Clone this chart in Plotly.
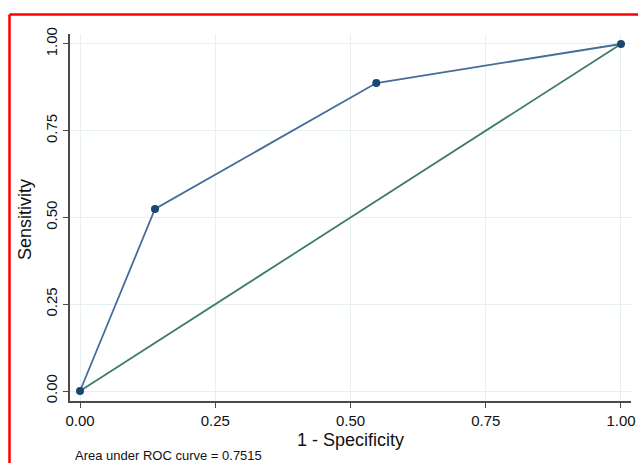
import plotly.graph_objects as go

# Data
fpr = [0.0, 0.1386, 0.5477, 1.0]          # 1 - Specificity
tpr = [0.0, 0.5245, 0.8876, 1.0]          # Sensitivity
ref_x = [0.0, 1.0]
ref_y = [0.0, 1.0]
tick_vals = [0.0, 0.25, 0.5, 0.75, 1.0]
tick_text = ["0.00", "0.25", "0.50", "0.75", "1.00"]
auc_text = "Area under ROC curve = 0.7515"

W, H = 638, 463
L, R, T, B = 70, 7, 34, 62
pw, ph = W - L - R, H - T - B

def px_x(p):
    return (p - L) / pw

def px_y(p):
    return (H - B - p) / ph

fig = go.Figure()
fig.add_trace(go.Scatter(x=ref_x, y=ref_y, mode="lines",
                         line=dict(color="#3d7d6d", width=1.8),
                         showlegend=False, hoverinfo="skip"))
fig.add_trace(go.Scatter(x=fpr, y=tpr, mode="lines+markers",
                         line=dict(color="#456d99", width=1.8),
                         marker=dict(color="#1a476f", size=8),
                         showlegend=False))

font_family = "Liberation Sans, Arial, sans-serif"
axis_common = dict(
    tickvals=tick_vals, ticktext=tick_text,
    showgrid=True, gridcolor="#e6f0f2", gridwidth=1,
    zeroline=False, showline=True, linecolor="#4a4a4a", linewidth=1.6,
    ticks="outside", ticklen=5, tickcolor="#4a4a4a", tickwidth=1.4,
    tickfont=dict(family=font_family, size=15, color="#111"),
    mirror=False, automargin=False,
)
fig.update_xaxes(range=[-0.0185, 1.0185], **axis_common)
fig.update_yaxes(range=[-0.0288, 1.0288], tickangle=-90, **axis_common)

fig.update_layout(
    width=W, height=H,
    margin=dict(l=L, r=R, t=T, b=B, pad=0, autoexpand=False),
    paper_bgcolor="white", plot_bgcolor="white",
    font=dict(family=font_family, color="#111"),
    annotations=[
        dict(text="1 - Specificity", xref="paper", yref="paper",
             x=px_x(350), y=px_y(440), xanchor="center", yanchor="middle",
             showarrow=False, font=dict(size=18, family=font_family)),
        dict(text="Sensitivity", xref="paper", yref="paper",
             x=px_x(25), y=px_y(220), xanchor="center", yanchor="middle",
             textangle=-90, showarrow=False, font=dict(size=18, family=font_family)),
        dict(text=auc_text, xref="paper", yref="paper",
             x=px_x(73), y=px_y(456), xanchor="left", yanchor="middle",
             showarrow=False, font=dict(size=13, family=font_family)),
    ],
    shapes=[
        dict(type="line", xref="paper", yref="paper",
             x0=px_x(9.5), x1=px_x(700), y0=px_y(14.5), y1=px_y(14.5),
             line=dict(color="#ff0000", width=2.5)),
        dict(type="line", xref="paper", yref="paper",
             x0=px_x(9.5), x1=px_x(9.5), y0=px_y(14.5), y1=px_y(520),
             line=dict(color="#ff0000", width=2.5)),
    ],
)

fig.write_html("out.html",
               config={"displayModeBar": False},
               post_script="document.body.style.margin='0';document.body.style.overflow='hidden';")
